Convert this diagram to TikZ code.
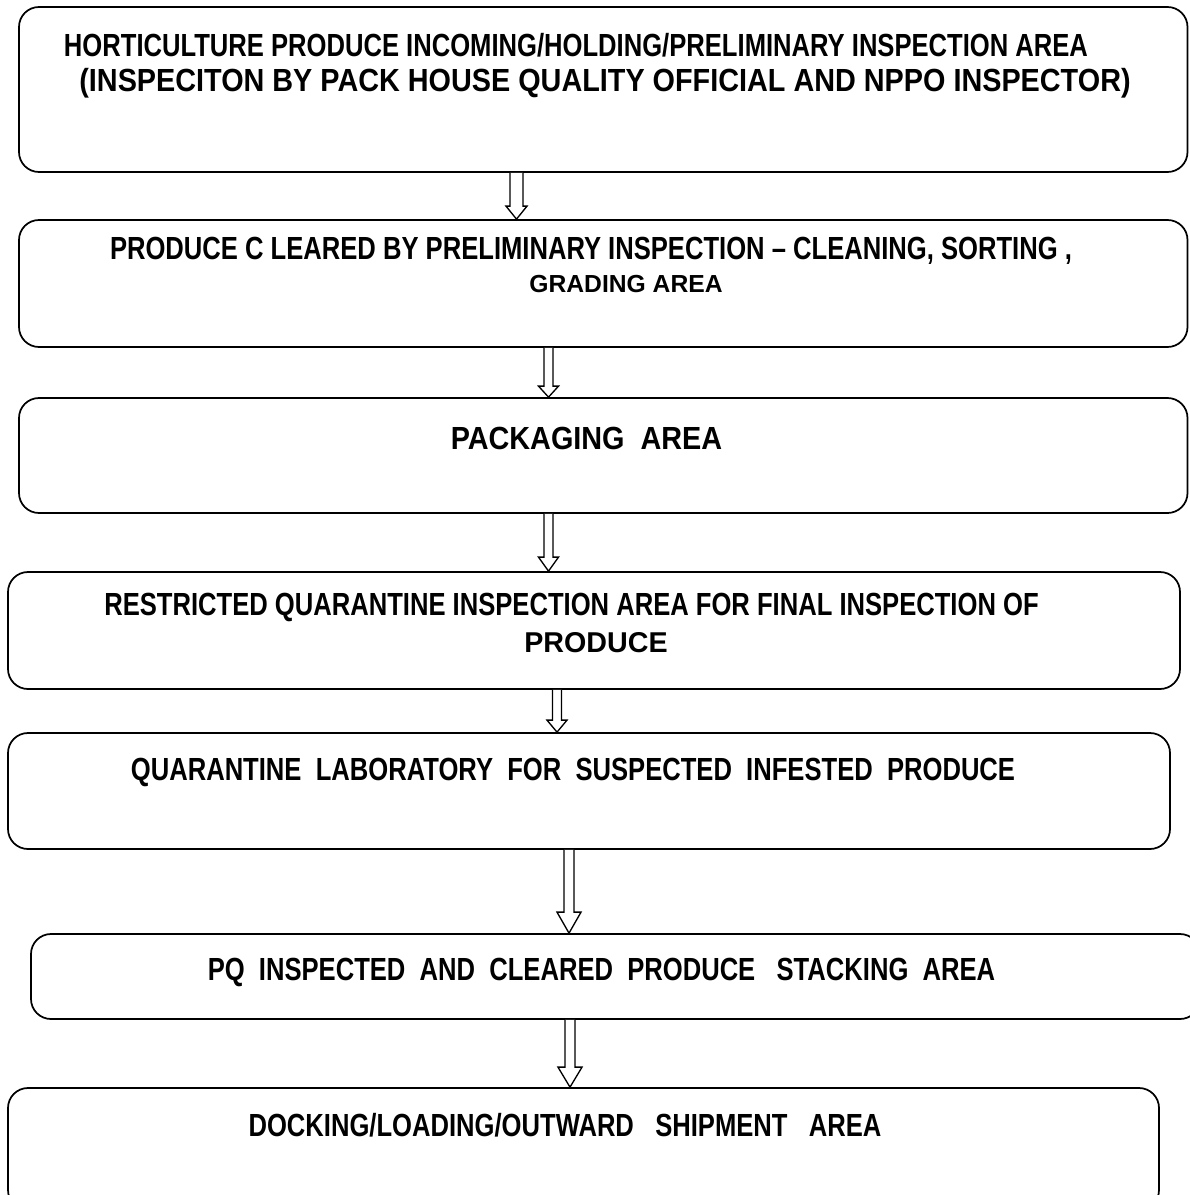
\documentclass[tikz,border=0pt]{standalone}
\usepackage{fontspec}
\setmainfont{Liberation Sans}
\newfontfamily\condfont{Liberation Sans}[FakeStretch=0.80]
\newfontfamily\midfont{Liberation Sans}[FakeStretch=0.90]
\usetikzlibrary{calc}
\tikzset{
  box/.style={draw=black, line width=1.3pt, rounded corners=15pt, inner sep=0pt, fill=white},
  cond/.style={font=\condfont\bfseries\fontsize{24}{28}\selectfont, inner sep=0pt, anchor=center},
  midw/.style={font=\midfont\bfseries\fontsize{24}{28}\selectfont, inner sep=0pt, anchor=center},
  wide/.style={font=\bfseries\fontsize{20}{24}\selectfont, inner sep=0pt, anchor=center},
  hollowarrow/.style={draw=black, line width=1pt, fill=white, line join=miter},
}
\newcommand\mkbox[5]{% name, left, top, right, bottom
  \node[box, minimum width={(#4-#2)*0.75pt}, minimum height={(#5-#3)*0.75pt}] (#1) at ({(#2+#4)/2},{(#3+#5)/2}) {};
}
\newcommand\flowarrow[6]{% x-coordinate name, from, to, half shaft, half head, head length
  \draw[hollowarrow] ($(#2.south -| #1)+(-#4,0)$) -- ($(#3.north -| #1)+(-#4,-#6)$) -- ($(#3.north -| #1)+(-#5,-#6)$) -- (#3.north -| #1) -- ($(#3.north -| #1)+(#5,-#6)$) -- ($(#3.north -| #1)+(#4,-#6)$) -- ($(#2.south -| #1)+(#4,0)$);
}
\begin{document}
\begin{tikzpicture}[x=0.75pt, y=-0.75pt]
\useasboundingbox (0,0) rectangle (1189,1195);
\mkbox{b1}{19}{7}{1187.5}{172}
\mkbox{b2}{19}{220}{1187.5}{347}
\mkbox{b3}{19}{398}{1187.5}{513}
\mkbox{b4}{8}{572}{1180}{689}
\mkbox{b5}{8}{733}{1170}{849}
\mkbox{b6}{31}{934}{1200}{1019}
\mkbox{b7}{8}{1088}{1159}{1210}
\coordinate (ax1) at (516.5,0);
\coordinate (ax2) at (548.5,0);
\coordinate (ax3) at (548.5,0);
\coordinate (ax4) at (557,0);
\coordinate (ax5) at (569,0);
\coordinate (ax6) at (570,0);
\flowarrow{ax1}{b1}{b2}{6.5}{10.5}{13}
\flowarrow{ax2}{b2}{b3}{4.5}{10}{11}
\flowarrow{ax3}{b3}{b4}{4.5}{10}{14}
\flowarrow{ax4}{b4}{b5}{4.5}{10}{12}
\flowarrow{ax5}{b5}{b6}{5}{12}{21}
\flowarrow{ax6}{b6}{b7}{5}{12}{20}
\node[cond] (t1a) at (576,45) {HORTICULTURE PRODUCE INCOMING/HOLDING/PRELIMINARY INSPECTION AREA};
\node[midw] (t1b) at (605,83) {(INSPECITON BY PACK HOUSE QUALITY OFFICIAL AND NPPO INSPECTOR)};
\node[cond] (t2a) at (591,251) {PRODUCE C LEARED BY PRELIMINARY INSPECTION – CLEANING, SORTING ,};
\node[wide, font=\bfseries\fontsize{18.5}{22}\selectfont] (t2b) at (626,284) {GRADING AREA};
\node[midw] (t3) at (586.5,438) {PACKAGING\ \ AREA};
\node[cond] (t4a) at (571.5,607) {RESTRICTED QUARANTINE INSPECTION AREA FOR FINAL INSPECTION OF};
\node[wide, font=\bfseries\fontsize{21.5}{24}\selectfont] (t4b) at (596,643) {PRODUCE};
\node[cond] (t5) at (573,772) {QUARANTINE\ \ LABORATORY\ \ FOR\ \ SUSPECTED\ \ INFESTED\ \ PRODUCE};
\node[cond] (t6) at (601.5,972) {PQ\ \ INSPECTED\ \ AND\ \ CLEARED\ \ PRODUCE\ \ \ STACKING\ \ AREA};
\node[cond] (t7) at (565,1125) {DOCKING/LOADING/OUTWARD\ \ \ SHIPMENT\ \ \ AREA};
\end{tikzpicture}
\end{document}
